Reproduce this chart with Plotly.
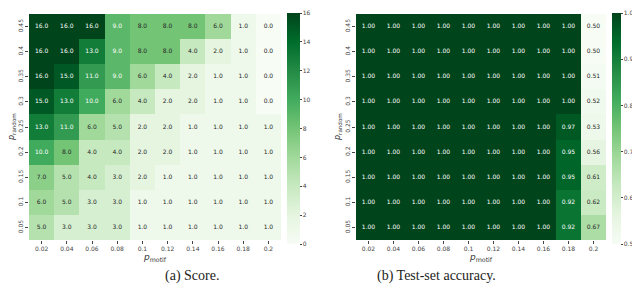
import plotly.graph_objects as go

p_motif = ["0.02", "0.04", "0.06", "0.08", "0.1", "0.12", "0.14", "0.16", "0.18", "0.2"]
p_random = ["0.05", "0.1", "0.15", "0.2", "0.25", "0.3", "0.35", "0.4", "0.45"]  # bottom -> top

# rows ordered bottom (0.05) to top (0.45)
score = [
    [5, 3, 3, 3, 1, 1, 1, 1, 1, 1],
    [6, 5, 3, 3, 1, 1, 1, 1, 1, 1],
    [7, 5, 4, 3, 2, 1, 1, 1, 1, 1],
    [10, 8, 4, 4, 2, 2, 1, 1, 1, 1],
    [13, 11, 6, 5, 2, 2, 1, 1, 1, 1],
    [15, 13, 10, 6, 4, 2, 2, 1, 1, 0],
    [16, 15, 11, 9, 6, 4, 2, 1, 1, 0],
    [16, 16, 13, 9, 8, 8, 4, 2, 1, 0],
    [16, 16, 16, 9, 8, 8, 8, 6, 1, 0],
]

accuracy = [
    [1.00, 1.00, 1.00, 1.00, 1.00, 1.00, 1.00, 1.00, 0.92, 0.67],
    [1.00, 1.00, 1.00, 1.00, 1.00, 1.00, 1.00, 1.00, 0.92, 0.62],
    [1.00, 1.00, 1.00, 1.00, 1.00, 1.00, 1.00, 1.00, 0.95, 0.61],
    [1.00, 1.00, 1.00, 1.00, 1.00, 1.00, 1.00, 1.00, 0.95, 0.56],
    [1.00, 1.00, 1.00, 1.00, 1.00, 1.00, 1.00, 1.00, 0.97, 0.53],
    [1.00, 1.00, 1.00, 1.00, 1.00, 1.00, 1.00, 1.00, 1.00, 0.52],
    [1.00, 1.00, 1.00, 1.00, 1.00, 1.00, 1.00, 1.00, 1.00, 0.51],
    [1.00, 1.00, 1.00, 1.00, 1.00, 1.00, 1.00, 1.00, 1.00, 0.50],
    [1.00, 1.00, 1.00, 1.00, 1.00, 1.00, 1.00, 1.00, 1.00, 0.50],
]

score_ticks = [0, 2, 4, 6, 8, 10, 12, 14, 16]
acc_ticks = [0.5, 0.6, 0.7, 0.8, 0.9, 1.0]
acc_ticktext = ["0.5", "0.6", "0.7", "0.8", "0.9", "1.0"]

greens_rgb = [(247, 252, 245), (229, 245, 224), (199, 233, 192), (161, 217, 155), (116, 196, 118),
              (65, 171, 93), (35, 139, 69), (0, 109, 44), (0, 68, 27)]
n = len(greens_rgb) - 1
greens = [[i / n, "rgb(%d,%d,%d)" % c] for i, c in enumerate(greens_rgb)]


def cell_color(t):
    t = min(max(t, 0.0), 1.0) * n
    i = min(int(t), n - 1)
    f = t - i
    a, b = greens_rgb[i], greens_rgb[i + 1]
    return [a[k] + (b[k] - a[k]) * f for k in range(3)]


def text_color(v, lo, hi):
    rgb = cell_color((v - lo) / (hi - lo))
    lin = []
    for c in rgb:
        c = c / 255
        lin.append(c / 12.92 if c <= 0.03928 else ((c + 0.055) / 1.055) ** 2.4)
    lum = 0.2126 * lin[0] + 0.7152 * lin[1] + 0.0722 * lin[2]
    return "white" if lum < 0.408 else "#262626"


FONT = "DejaVu Sans"
tickfont = dict(family=FONT, size=6, color="#444")

fig = go.Figure()


def add_panel(z, lo, hi, fmt, xa, ya, cb):
    fig.add_trace(go.Heatmap(
        x=p_motif, y=p_random, z=z, zmin=lo, zmax=hi, colorscale=greens,
        xaxis=xa, yaxis=ya, hoverinfo="skip", colorbar=cb,
    ))
    xs, ys, ts, cs = [], [], [], []
    for r, yv in enumerate(p_random):
        for c, xv in enumerate(p_motif):
            xs.append(xv)
            ys.append(yv)
            ts.append(fmt.format(z[r][c]))
            cs.append(text_color(z[r][c], lo, hi))
    fig.add_trace(go.Scatter(
        x=xs, y=ys, text=ts, mode="text", textposition="middle center",
        textfont=dict(family=FONT, size=6, color=cs),
        xaxis=xa, yaxis=ya, hoverinfo="skip", showlegend=False,
    ))


cb_common = dict(y=0.2185, yanchor="bottom", len=0.765, lenmode="fraction", outlinewidth=0,
                 xpad=0, ypad=0, ticks="outside", ticklen=2, tickcolor="#444", tickfont=tickfont)

add_panel(score, 0, 16, "{:.1f}", "x", "y",
          dict(x=279/640, xanchor="left", thickness=13, tickvals=score_ticks, **cb_common))
add_panel(accuracy, 0.5, 1.0, "{:.2f}", "x2", "y2",
          dict(x=604/640, xanchor="left", thickness=9, tickvals=acc_ticks,
               ticktext=acc_ticktext, **cb_common))

xcommon = dict(type="category", ticks="outside", ticklen=3, tickcolor="#444", tickfont=tickfont,
               showgrid=False, zeroline=False, showline=False, categoryorder="array",
               categoryarray=p_motif,
               title=dict(text="<i>p</i><sub>motif</sub>", font=dict(family=FONT, size=9, color="#333"),
                          standoff=2))
ycommon = dict(type="category", ticks="outside", ticklen=3, tickcolor="#444", tickfont=tickfont,
               tickangle=-90, showgrid=False, zeroline=False, showline=False, categoryorder="array",
               categoryarray=p_random)

ydom = [70/302, 296/302]
ytitle_font = dict(family=FONT, size=8, color="#333")
ymid = (ydom[0] + ydom[1]) / 2
fig.update_layout(
    width=640, height=302, margin=dict(l=0, r=0, t=0, b=0),
    paper_bgcolor="white", plot_bgcolor="white",
    xaxis=dict(domain=[21/640, 273/640], anchor="y", **xcommon),
    yaxis=dict(domain=ydom, anchor="x", **ycommon),
    xaxis2=dict(domain=[348/640, 598/640], anchor="y2", **xcommon),
    yaxis2=dict(domain=ydom, anchor="x2", **ycommon),
    annotations=[
        dict(text="<i>p</i><sub>random</sub>", x=4/640, y=ymid, xref="paper", yref="paper",
             xanchor="center", textangle=-90, showarrow=False, font=ytitle_font),
        dict(text="<i>p</i><sub>random</sub>", x=330/640, y=ymid, xref="paper", yref="paper",
             xanchor="center", textangle=-90, showarrow=False, font=ytitle_font),
        dict(text="(a) Score.", x=155/640, y=(302-278)/302, xref="paper", yref="paper",
             showarrow=False, font=dict(family="Liberation Serif", size=14, color="#222")),
        dict(text="(b) Test-set accuracy.", x=490/640, y=(302-278)/302, xref="paper", yref="paper",
             showarrow=False, font=dict(family="Liberation Serif", size=14, color="#222")),
    ],
)

fig.write_html("out.html")
